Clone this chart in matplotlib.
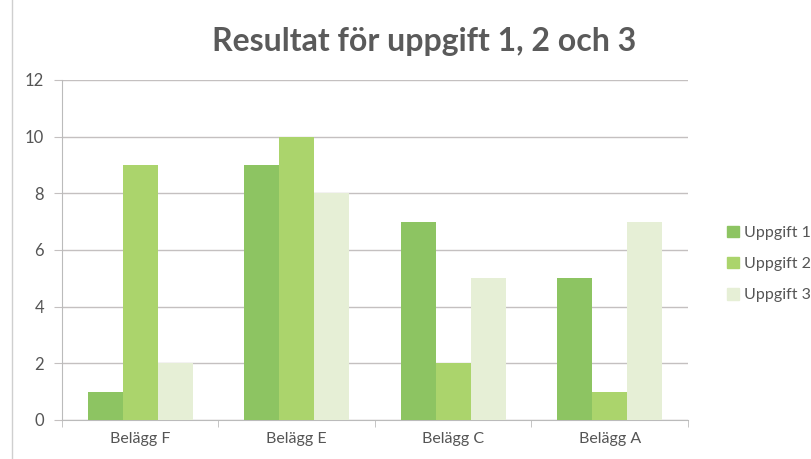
import matplotlib.pyplot as plt
import numpy as np

plt.rcParams['font.family'] = ['Lato', 'DejaVu Sans']

categories = ['Belägg F', 'Belägg E', 'Belägg C', 'Belägg A']
series_names = ['Uppgift 1', 'Uppgift 2', 'Uppgift 3']
uppgift_1 = [1, 9, 7, 5]
uppgift_2 = [9, 10, 2, 1]
uppgift_3 = [2, 8, 5, 7]
y_ticks = [0, 2, 4, 6, 8, 10, 12]

colors = ['#8dc462', '#abd46c', '#e6efd6']
values = [uppgift_1, uppgift_2, uppgift_3]

fig = plt.figure(figsize=(8.12, 4.59), dpi=100)
ax = fig.add_axes([62 / 812, 1 - 420 / 459, 626 / 812, 340 / 459])

x = np.arange(len(categories))
w = 0.223
for i, (vals, name, c) in enumerate(zip(values, series_names, colors)):
    ax.bar(x + (i - 1) * w, vals, width=w, color=c, label=name, zorder=3)

ax.set_xlim(-0.5, len(categories) - 0.5)
ax.set_ylim(0, 12)
ax.set_yticks(y_ticks)
ax.yaxis.grid(True, color='#c4c0c0', linewidth=1, zorder=0)
ax.set_xticks(x)
ax.set_xticklabels(categories)
ax.set_xticks(np.arange(len(categories) + 1) - 0.5, minor=True)
ax.tick_params(axis='x', which='major', length=0, pad=9, labelsize=11.5, labelcolor='#555555')
ax.tick_params(axis='x', which='minor', length=5, color='#bbbbbb', direction='out')
ax.tick_params(axis='y', length=6, color='#c4c0c0', pad=7, labelsize=12, labelcolor='#555555')

for s in ['top', 'right']:
    ax.spines[s].set_visible(False)
for s in ['left', 'bottom']:
    ax.spines[s].set_color('#bbbbbb')

fig.text(424 / 812, 1 - 42 / 459, 'Resultat för uppgift 1, 2 och 3', ha='center', va='center',
         fontsize=23, fontweight='bold', color='#5a5a5a')

handles = [plt.Rectangle((0, 0), 1, 1, color=c) for c in colors]
fig.legend(handles, series_names, loc='center left', bbox_to_anchor=(722 / 812, 1 - 264 / 459),
           frameon=False, fontsize=11.5, labelcolor='#555555', handlelength=0.75, handleheight=0.75,
           handletextpad=0.3, labelspacing=1.05, borderaxespad=0, borderpad=0.3)

fig.add_artist(plt.Line2D([12 / 812, 12 / 812], [0, 1], color='#cfcfcf', linewidth=1))

fig.savefig('out.png', dpi=100, facecolor='white')
